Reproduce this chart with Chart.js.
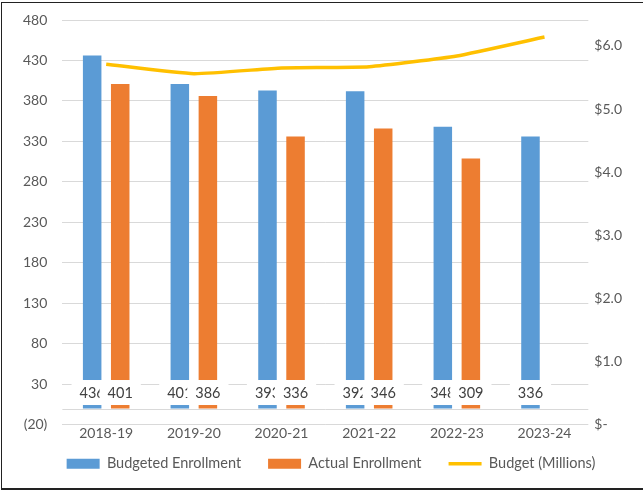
<!DOCTYPE html>
<html>
<head>
<meta charset="utf-8">
<script src="https://cdn.jsdelivr.net/npm/chart.js@4/dist/chart.umd.min.js"></script>
<style>
  body { margin: 0; background: #fff; }
  #wrap { position: absolute; left: 0; top: 0; width: 644px; height: 491px; }
  #frame { position: absolute; left: 1px; top: 2px; width: 641px; height: 485px;
           border-left: 1px solid #222; border-top: 1px solid #222; border-bottom: 2px solid #222; }
</style>
</head>
<body>
<div id="wrap"><canvas id="grafico"></canvas></div>
<div id="frame"></div>
<script>
// Anos letivos e valores
const anos = ['2018-19', '2019-20', '2020-21', '2021-22', '2022-23', '2023-24'];
const matriculaOrcada = [436, 401, 393, 392, 348, 336];
const matriculaReal = [401, 386, 336, 346, 309, null];
const orcamentoMilhoes = [5.71, 5.56, 5.65, 5.67, 5.84, 6.14];
const ticksDireita = [0, 1, 2, 3, 4, 5, 6];

const fonte = 'Lato, "Liberation Sans", sans-serif';
const cinzaTexto = '#595959';
const cinzaGrade = '#d9d9d9';

// Rótulos no pé das barras, com fundo branco, e a linha do zero
const rotulosBase = {
  id: 'rotulosBase',
  beforeDatasetsDraw(chart) {
    const { ctx, chartArea, scales } = chart;
    const y0 = Math.round(scales.y.getPixelForValue(0)) + 0.5;
    ctx.save();
    ctx.strokeStyle = cinzaGrade;
    ctx.lineWidth = 1;
    ctx.beginPath();
    ctx.moveTo(chartArea.left, y0);
    ctx.lineTo(chartArea.right, y0);
    ctx.stroke();
    ctx.restore();
  },
  afterDatasetsDraw(chart) {
    const { ctx, scales } = chart;
    const yCentro = scales.y.getPixelForValue(0) - 16;
    ctx.save();
    ctx.font = '14.5px ' + fonte;
    ctx.textAlign = 'center';
    ctx.textBaseline = 'middle';
    [0, 1].forEach(i => {
      const meta = chart.getDatasetMeta(i);
      const dados = chart.data.datasets[i].data;
      meta.data.forEach((barra, j) => {
        if (dados[j] == null) return;
        const txt = String(dados[j]);
        const w = ctx.measureText(txt).width + 16;
        ctx.fillStyle = '#fff';
        ctx.fillRect(barra.x - w / 2, yCentro - 12.5, w, 25);
        ctx.fillStyle = '#404040';
        ctx.fillText(txt, barra.x, yCentro + 1);
      });
    });
    ctx.restore();
  }
};

// Legenda mais baixa, mais junta ao eixo e um pouco à direita
const ajusteLegenda = {
  id: 'ajusteLegenda',
  beforeLayout(chart) {
    const leg = chart.legend;
    if (!leg || leg._ajustada) return;
    const fitOriginal = leg.fit;
    leg.fit = function () { fitOriginal.call(this); this.height -= 2; };
    leg._ajustada = true;
  },
  afterLayout(chart) {
    const leg = chart.legend;
    leg.top -= 12;
    leg.bottom -= 12;
    leg.left += 13;
    leg.right += 13;
  }
};

// o espaço do topo fica só com o padding do layout
const semFolgaVertical = s => { s.paddingTop = 0; s.paddingBottom = 0; };

new Chart(document.getElementById('grafico'), {
  type: 'bar',
  data: {
    labels: anos,
    datasets: [
      {
        label: 'Budgeted Enrollment',
        data: matriculaOrcada,
        backgroundColor: '#5b9bd5',
        pointStyle: 'rect',
        yAxisID: 'y'
      },
      {
        label: 'Actual Enrollment',
        data: matriculaReal,
        backgroundColor: '#ed7d31',
        pointStyle: 'rect',
        yAxisID: 'y'
      },
      {
        type: 'line',
        label: 'Budget (Millions)',
        data: orcamentoMilhoes,
        borderColor: '#ffc000',
        backgroundColor: '#ffc000',
        borderWidth: 3.5,
        pointRadius: 0,
        pointStyle: 'line',
        tension: 0.15,
        order: -1,
        yAxisID: 'y1'
      }
    ]
  },
  options: {
    responsive: true,
    maintainAspectRatio: false,
    animation: false,
    categoryPercentage: 0.64,
    barPercentage: 0.66,
    layout: { padding: { left: 8, right: 16, top: 20, bottom: 0 } },
    scales: {
      x: {
        grid: { display: false, drawTicks: false },
        border: { display: false },
        ticks: { color: cinzaTexto, font: { family: fonte, size: 14 }, padding: 0 }
      },
      y: {
        position: 'left',
        min: -20,
        max: 480,
        grid: { color: cinzaGrade, drawTicks: false },
        border: { display: false },
        afterFit: semFolgaVertical,
        ticks: {
          stepSize: 50,
          padding: 15,
          color: cinzaTexto,
          font: { family: fonte, size: 14 },
          callback: v => v < 0 ? '(' + (-v) + ')' : v
        }
      },
      y1: {
        position: 'right',
        min: 0,
        max: 6.41,
        grid: { display: false, drawTicks: false },
        border: { display: false },
        afterFit: semFolgaVertical,
        afterBuildTicks: eixo => { eixo.ticks = ticksDireita.map(v => ({ value: v })); },
        ticks: {
          padding: 6,
          color: cinzaTexto,
          font: { family: fonte, size: 14 },
          callback: v => v === 0 ? '$-' : '$' + v.toFixed(1)
        }
      }
    },
    plugins: {
      tooltip: { enabled: false },
      legend: {
        position: 'bottom',
        labels: {
          color: cinzaTexto,
          font: { family: fonte, size: 14.5 },
          usePointStyle: true,
          pointStyleWidth: 33,
          boxHeight: 10,
          padding: 27,
          sort: (a, b) => a.datasetIndex - b.datasetIndex
        }
      }
    }
  },
  plugins: [rotulosBase, ajusteLegenda]
});
</script>
</body>
</html>
